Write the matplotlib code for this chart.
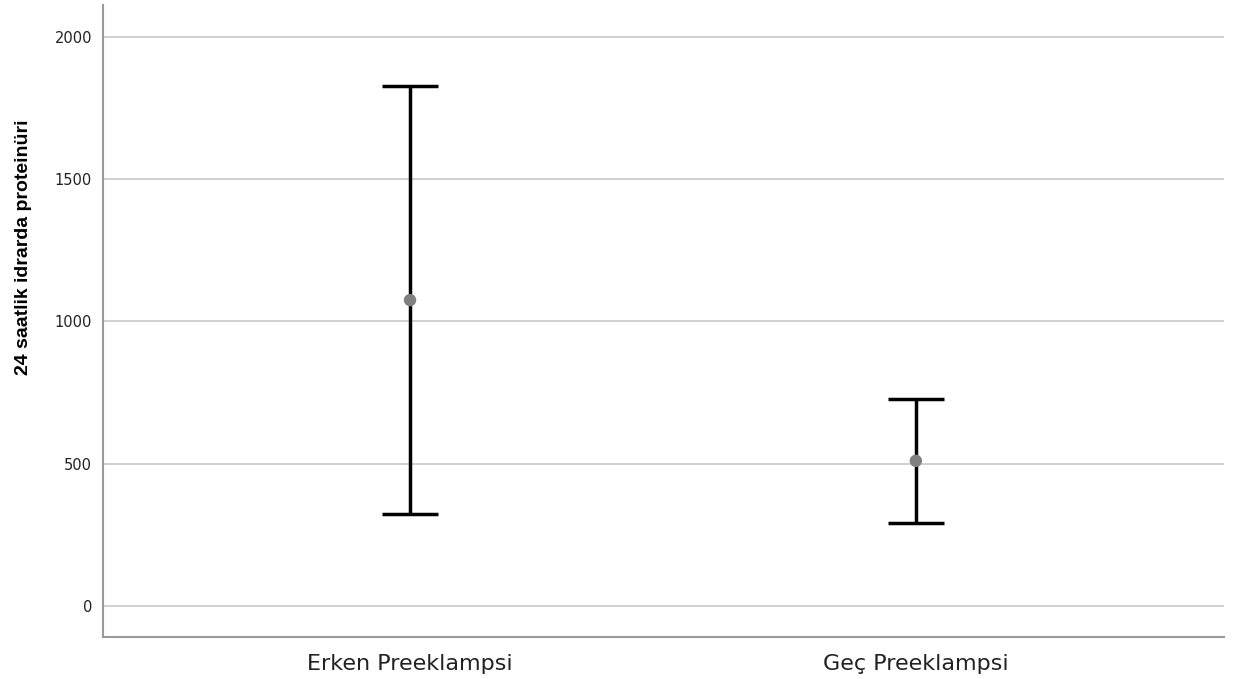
import matplotlib
matplotlib.use('Agg')
import matplotlib.pyplot as plt
import numpy as np

# Group names and read-off values (mean with 95% CI bounds)
groups = ['Erken Preeklampsi', 'Geç Preeklampsi']
means = [1075, 510]
ci_low = [323, 292]
ci_high = [1828, 728]
y_ticks = [0, 500, 1000, 1500, 2000]
y_label = '24 saatlik idrarda proteinüri'

fig = plt.figure(figsize=(12.35, 6.79), dpi=100)
ax = fig.add_axes([0.0834, 0.0619, 0.9076, 0.9307])

x = np.arange(len(groups))
means = np.array(means)
err = np.array([means - np.array(ci_low), np.array(ci_high) - means])

# Grid lines behind the error bars
for t in y_ticks:
    ax.axhline(t, color='#c8c8c8', linewidth=1.2, zorder=0)

ax.errorbar(x, means, yerr=err, fmt='none', ecolor='black',
            elinewidth=2.5, capsize=20, capthick=2.5, zorder=2)
ax.scatter(x, means, s=80, color='#808080', zorder=3, edgecolors='none')

ax.set_xlim(-0.607, 1.609)
ax.set_ylim(-109, 2112)
ax.set_xticks(x)
ax.set_xticklabels(groups, fontsize=16)
ax.set_yticks(y_ticks)
ax.set_yticklabels([str(t) for t in y_ticks], fontsize=10.5)
ax.tick_params(axis='both', length=0, colors='#222222')
ax.tick_params(axis='x', pad=12)
ax.tick_params(axis='y', pad=8)

ax.set_ylabel(y_label, fontsize=14, fontweight='bold',
              family=['Liberation Sans', 'DejaVu Sans'])
ax.yaxis.set_label_coords(-0.063, 0.617)

for side in ['top', 'right']:
    ax.spines[side].set_visible(False)
for side in ['left', 'bottom']:
    ax.spines[side].set_color('#9a9a9a')
    ax.spines[side].set_linewidth(1.5)

fig.savefig('out.png', dpi=100)
